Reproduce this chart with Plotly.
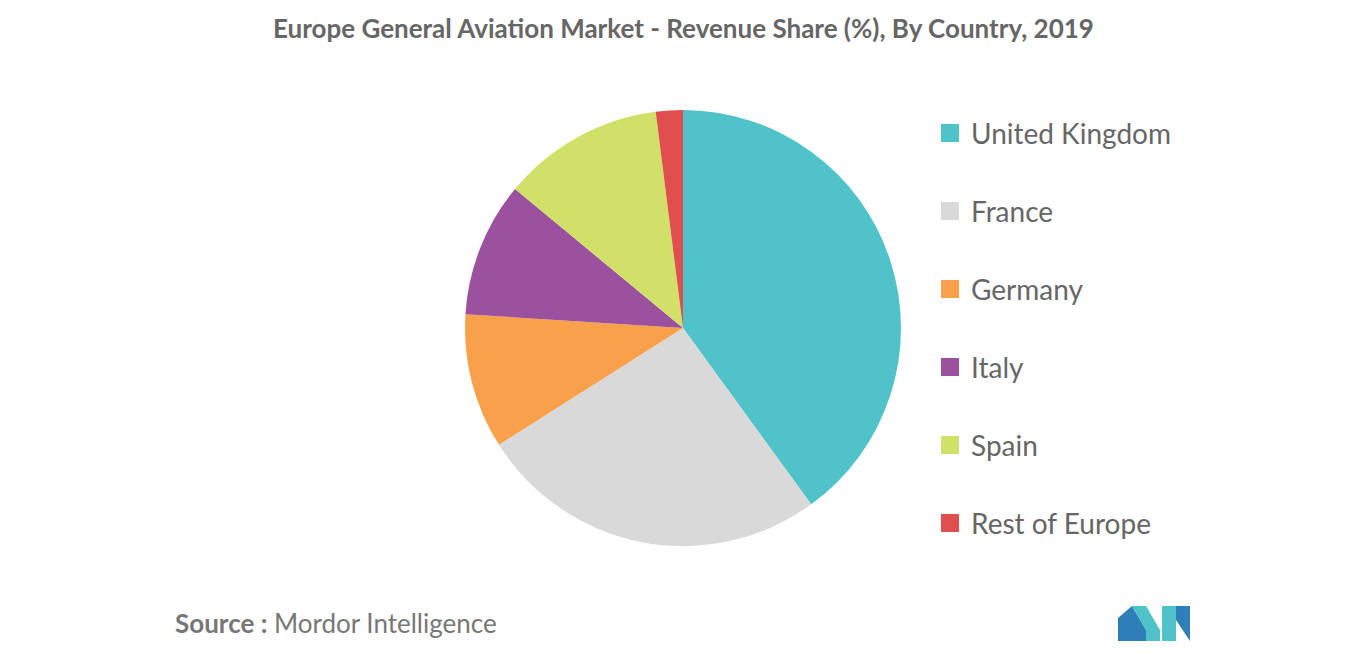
import plotly.graph_objects as go

labels = ["United Kingdom", "France", "Germany", "Italy", "Spain", "Rest of Europe"]
values = [40, 26, 10, 10, 12, 2]
colors = ["#4FC3C9", "#D9D9D9", "#F9A04A", "#9B519E", "#D0E069", "#E04E4E"]

W, H = 1366, 655
OX, OY = 8, 8
def px(x): return (x - OX) / W
def py(y): return (H - (y - OY)) / H

fig = go.Figure(go.Pie(labels=labels, values=values, sort=False, direction="clockwise",
                       rotation=0, marker=dict(colors=colors), textinfo="none",
                       hoverinfo="label+percent", showlegend=False,
                       domain=dict(x=[px(465), px(901)], y=[py(546), py(110)])))

shapes, ann = [], []
for i, (lab, c) in enumerate(zip(labels, colors)):
    yc = 133 + 78*i
    shapes.append(dict(type="rect", xref="paper", yref="paper",
                       x0=px(941), x1=px(959), y0=py(yc+9), y1=py(yc-9),
                       fillcolor=c, line=dict(width=0)))
    ann.append(dict(text=lab, xref="paper", yref="paper", x=px(969), y=py(yc),
                    xanchor="left", yanchor="middle", showarrow=False,
                    font=dict(size=28, color="#666666", family="Lato")))

ann.append(dict(text="<b>Europe General Aviation Market - Revenue Share (%), By Country, 2019</b>",
                xref="paper", yref="paper", x=px(683), y=py(28), showarrow=False,
                xanchor="center", yanchor="middle",
                font=dict(size=26, color="#666666", family="Lato")))
ann.append(dict(text="<b>Source :</b> Mordor Intelligence", xref="paper", yref="paper",
                x=px(173), y=py(623), xanchor="left", yanchor="middle", showarrow=False,
                font=dict(size=26, color="#777777", family="Lato")))

def poly(pts, col):
    path = "M " + " L ".join(f"{px(x)},{py(y)}" for x, y in pts) + " Z"
    shapes.append(dict(type="path", xref="paper", yref="paper", path=path,
                       fillcolor=col, line=dict(width=0)))
poly([(1118, 641), (1118, 618), (1132, 606), (1146, 630), (1146, 641)], "#2E7FB8")
poly([(1132, 606), (1146, 606), (1160, 630), (1160, 641), (1146, 641), (1146, 630)], "#4FC3C9")
poly([(1162, 641), (1162, 606), (1176, 606), (1176, 641)], "#4FC3C9")
poly([(1176, 606), (1190, 606), (1190, 641), (1176, 620)], "#2E7FB8")

fig.update_layout(width=W, height=H, margin=dict(l=0, r=0, t=0, b=0),
                  paper_bgcolor="white", plot_bgcolor="white",
                  shapes=shapes, annotations=ann)
fig.write_html("out.html")
